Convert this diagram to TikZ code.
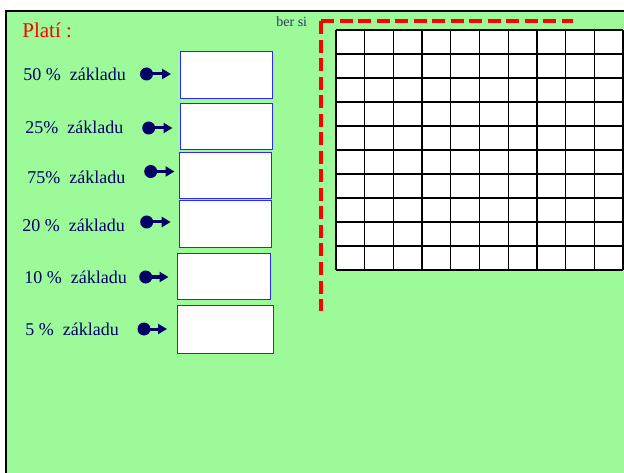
\documentclass[tikz,border=0pt]{standalone}
\usepackage{fontspec}
\setmainfont{Liberation Serif}
\usetikzlibrary{arrows.meta}
\definecolor{pagegreen}{RGB}{156,250,152}
\definecolor{keynavy}{RGB}{0,0,102}
\definecolor{boxblue}{RGB}{40,40,255}
\definecolor{sinote}{RGB}{51,51,102}
\tikzset{every picture/.style={line width=0.75pt}}
\tikzset{
  pctlabel/.style={anchor=west, inner sep=0pt, text=keynavy, font=\fontsize{18}{20}\selectfont},
  answerbox/.style={draw=boxblue, fill=white, line width=1pt},
  keydot/.style={circle, fill=keynavy, inner sep=0pt, minimum size=13pt},
  keyarrow/.style={draw=keynavy, line width=3pt, -{Triangle[length=9pt,width=10pt]}},
  gridline/.style={draw=black, line width=1.3pt},
  reddash/.style={draw=red, line width=4pt, dash pattern=on 13pt off 5.5pt}
}

\begin{document}
\begin{tikzpicture}[x=1pt,y=1pt,yscale=-1,xscale=1]
\useasboundingbox (0,0) rectangle (624,473);
\clip (0,0) rectangle (624,473);

%Shape: Rectangle [id:page]
\fill [white] (0,0) rectangle (624,473);
\draw [fill=pagegreen, line width=2.2pt] (6.3,11) rectangle (640,490);

%Shape: Grid [id:hundred]
\fill [white] (336,30) rectangle (623,270);
\foreach \i in {0,...,10} {
  \draw [gridline] (336+28.7*\i,30) -- (336+28.7*\i,270);
  \draw [gridline] (336,30+24*\i) -- (623,30+24*\i);
}

%Straight Lines [id:redcorner]
\coordinate (corner) at (321,21.5);
\coordinate (redbottom) at (321,311);
\coordinate (redright) at (573,21.5);
\draw [reddash] (corner) -- (redbottom);
\draw [reddash] (corner) -- (redright);

% Text Node
\node (plati) [anchor=west, inner sep=0pt, text=red, font=\fontsize{21}{23}\selectfont] at (22,30) {Platí\ :};
% Text Node
\node (bersi) [anchor=west, inner sep=0pt, text=sinote, font=\fontsize{14}{16}\selectfont] at (276,22) {ber si};

% Text Node
\node (p50) [pctlabel] at (23,74) {50 \%\ \ základu};
% Text Node
\node (p25) [pctlabel] at (25,127) {25\%\ \ základu};
% Text Node
\node (p75) [pctlabel] at (27,177) {75\%\ \ základu};
% Text Node
\node (p20) [pctlabel] at (22,225) {20 \%\ \ základu};
% Text Node
\node (p10) [pctlabel] at (24,277) {10 \%\ \ základu};
% Text Node
\node (p5) [pctlabel] at (25,329) {5 \%\ \ základu};

%Shape: Rectangle [id:boxes]
\draw [answerbox] (180,51.7) rectangle (272.7,98.7);
\draw [answerbox] (180,103.3) rectangle (272.7,150);
\draw [answerbox] (179.3,152.3) rectangle (271.7,199);
\draw [answerbox] (179.3,201) rectangle (271.7,247.3);
\draw [answerbox] (177.3,253.3) rectangle (270,299.3);
\draw [answerbox] (177.3,305.7) rectangle (273,353.3);

%Keys
\node (k50) [keydot] at (146.5,74) {};
\coordinate (t50) at (171,74);
\draw [keyarrow] (k50.center) -- (t50);
\node (k25) [keydot] at (148.7,128) {};
\coordinate (t25) at (172.5,128);
\draw [keyarrow] (k25.center) -- (t25);
\node (k75) [keydot] at (150.7,171.5) {};
\coordinate (t75) at (174.5,171.5);
\draw [keyarrow] (k75.center) -- (t75);
\node (k20) [keydot] at (146.7,222) {};
\coordinate (t20) at (170.7,222);
\draw [keyarrow] (k20.center) -- (t20);
\node (k10) [keydot] at (145.7,277) {};
\coordinate (t10) at (168.5,277);
\draw [keyarrow] (k10.center) -- (t10);
\node (k5) [keydot] at (144,329) {};
\coordinate (t5) at (167,329);
\draw [keyarrow] (k5.center) -- (t5);

\end{tikzpicture}
\end{document}
